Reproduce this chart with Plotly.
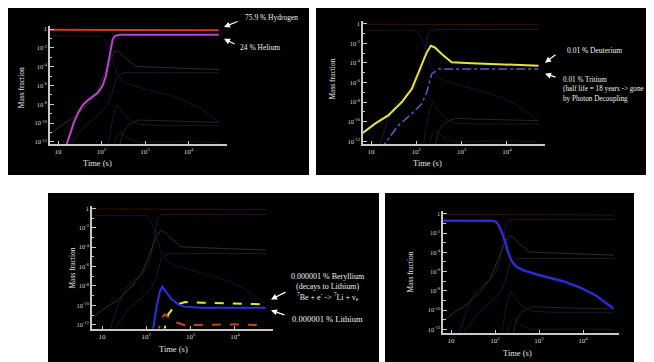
import plotly.graph_objects as go

# ---------------- data (time in s, mass fraction) ----------------
t_hydrogen = [6.6, 30, 100, 180, 300, 1000, 10000, 50000]
x_hydrogen = [0.87, 0.85, 0.82, 0.76, 0.74, 0.75, 0.76, 0.77]

t_helium = [14, 15.8, 18.9, 23.3, 29.3, 38.2, 49.8, 64.9, 84.5, 106, 127, 144, 163, 181, 204, 266, 50000]
x_helium = [1e-13, 5.8e-13, 7.8e-12, 1.3e-10, 1.5e-9, 9.8e-9, 3.0e-8, 6.9e-8, 1.95e-7, 1.0e-6,
            1.15e-5, 2.95e-4, 1.12e-2, 8.7e-2, 0.195, 0.25, 0.25]

t_deuterium = [6.6, 12.3, 24, 47.9, 79.4, 120, 170, 209, 257, 363, 603, 1660, 9120, 50000]
x_deuterium = [7.1e-12, 6.3e-11, 4.4e-10, 1e-8, 2.2e-7, 2.5e-5, 1.15e-3, 5.5e-3, 3.7e-3, 7.9e-4,
               1.12e-4, 8.9e-5, 7.1e-5, 5.1e-5]

t_tritium = [17.8, 20.4, 39.8, 79.4, 132, 170, 219, 309, 50000]
x_tritium = [1e-13, 6.3e-13, 4e-11, 6.5e-10, 6.8e-9, 1e-7, 7.4e-6, 2.3e-5, 2.3e-5]

t_neutron = [6.6, 89, 105, 119, 141, 170, 200, 240, 309, 437, 891, 3550, 8510, 20400, 49000]
x_neutron = [0.19, 0.19, 0.15, 7.2e-2, 1.48e-2, 1.38e-3, 8.7e-5, 1.17e-5, 3.0e-6, 1.38e-6, 4.9e-7,
             1e-7, 2.2e-8, 2.9e-9, 1.4e-10]

t_beryllium = [240, 263, 314, 407, 525, 741, 1780, 50000]
x_beryllium = [1e-13, 5.1e-13, 1.2e-11, 5.8e-11, 1.26e-10, 2.2e-10, 1.86e-10, 1.26e-10]

t_lithium = [132, 144, 172, 204, 229, 288, 372, 525, 741, 1780, 50000]
x_lithium = [1e-13, 5.1e-13, 8.5e-11, 2.95e-9, 8.3e-9, 2e-9, 4.2e-10, 1.26e-10, 7.4e-11, 5.8e-11, 5.8e-11]

t_other = [178, 194, 224, 263, 343, 485, 741, 10000, 50000]
x_other = [1e-13, 5.1e-13, 5.5e-12, 1.2e-11, 4.3e-12, 1.7e-12, 8.9e-13, 1.1e-12, 8.9e-13]

x_tickvals = [10, 100, 1000, 10000]
x_ticktext = ["10", "10<sup>2</sup>", "10<sup>3</sup>", "10<sup>4</sup>"]
y_tickvals = [1, 1e-2, 1e-4, 1e-6, 1e-8, 1e-10, 1e-12]
y_ticktext = ["1", "10<sup>-2</sup>", "10<sup>-4</sup>", "10<sup>-6</sup>", "10<sup>-8</sup>",
              "10<sup>-10</sup>", "10<sup>-12</sup>"]
y_minorvals = [1e-1, 1e-3, 1e-5, 1e-7, 1e-9, 1e-11]

species = {
    "H":  (t_hydrogen, x_hydrogen, dict(color="#d8361e", width=2), "#36120c"),
    "He": (t_helium, x_helium, dict(color="#c23ed6", width=2), "#261230"),
    "D":  (t_deuterium, x_deuterium, dict(color="#e6e33c", width=2), "#30301c"),
    "T":  (t_tritium, x_tritium, dict(color="#5a5ac8", width=1.5, dash="dashdot"), "#1a1a2e"),
    "n":  (t_neutron, x_neutron, dict(color="#2a2ad6", width=2.5), "#14142e"),
    "Be": (t_beryllium, x_beryllium, dict(color="#e6e33c", width=2, dash="dash"), "#262618"),
    "Li": (t_lithium, x_lithium, dict(color="#2434e0", width=2), "#16162e"),
    "X":  (t_other, x_other, dict(color="#d23c1e", width=2, dash="dash"), "#24120c"),
}

W, H = 654, 362
OFF = 8  # page body margin in the browser


def px(x):
    return (x - OFF) / W


def py(y):
    return 1 - (y - OFF) / H


panels = [
    dict(box=(8, 6, 309, 175), xl=50, xr=227, yb=144, yt=25, x0=58, xdec=43.5, y0=28.3, ydec=9.45,
         hi=["H", "He"], xt=(97, 163), yt_=(21.7, 87)),
    dict(box=(316, 5, 664, 175), xl=363, xr=545, yb=144, yt=20, x0=371, xdec=45.3, y0=22.7, ydec=9.86,
         hi=["D", "T"], xt=(427, 162.5), yt_=(333, 79)),
    dict(box=(48, 193, 379, 372), xl=92, xr=273, yb=329.3, yt=206, x0=102, xdec=44.3, y0=208.5, ydec=9.75,
         hi=["Be", "Li", "X"], xt=(173, 350), yt_=(73, 269)),
    dict(box=(385, 193, 634, 372), xl=443.3, xr=619, yb=334, yt=211, x0=451, xdec=44, y0=214, ydec=9.67,
         hi=["n"], xt=(517, 354), yt_=(411, 273)),
]

fig = go.Figure()
shapes = []
annotations = []
FONT = "Liberation Serif"
axcol = "#c8c8c8"

for i, p in enumerate(panels, start=1):
    sfx = "" if i == 1 else str(i)
    xa, ya = "x" + sfx, "y" + sfx
    bx0, by0, bx1, by1 = p["box"]
    shapes.append(dict(type="rect", xref="paper", yref="paper", x0=px(bx0), x1=px(bx1),
                       y0=py(by1), y1=py(by0), fillcolor="black", line=dict(width=0), layer="below"))
    for k, (tt, vv, style, dim) in species.items():
        if k in p["hi"]:
            continue
        fig.add_trace(go.Scatter(x=tt, y=vv, mode="lines", xaxis=xa, yaxis=ya, showlegend=False,
                                 line=dict(color=dim, width=1), hoverinfo="skip"))
    for k in p["hi"]:
        tt, vv, style, dim = species[k]
        fig.add_trace(go.Scatter(x=tt, y=vv, mode="lines", xaxis=xa, yaxis=ya, showlegend=False,
                                 line=style))
    xr0 = 1 + (p["xl"] - p["x0"]) / p["xdec"]
    xr1 = 1 + (p["xr"] - p["x0"]) / p["xdec"]
    yr0 = -(p["yb"] - p["y0"]) / p["ydec"]
    yr1 = -(p["yt"] - p["y0"]) / p["ydec"]
    fig.layout["xaxis" + sfx] = dict(
        type="log", range=[xr0, xr1], domain=[px(p["xl"]), px(p["xr"])], anchor=ya,
        showline=True, linecolor=axcol, linewidth=1.5, ticks="inside", ticklen=3, tickwidth=1,
        tickcolor=axcol, tickvals=x_tickvals, ticktext=x_ticktext, showgrid=False, zeroline=False,
        tickfont=dict(family=FONT, size=7, color="#d8d8d8"), fixedrange=True)
    fig.layout["yaxis" + sfx] = dict(
        type="log", range=[yr0, yr1], domain=[py(p["yb"]), py(p["yt"])], anchor=xa,
        showline=True, linecolor=axcol, linewidth=1.5, ticks="inside", ticklen=4, tickwidth=1,
        tickcolor=axcol, tickvals=y_tickvals, ticktext=y_ticktext, showgrid=False, zeroline=False,
        minor=dict(tickvals=y_minorvals, ticks="inside", ticklen=2.5, tickcolor=axcol, showgrid=False),
        tickfont=dict(family=FONT, size=6.5, color="#d8d8d8"), fixedrange=True)
    annotations.append(dict(text="Time (s)", xref="paper", yref="paper", x=px(p["xt"][0]), y=py(p["xt"][1]),
                            xanchor="center", yanchor="middle", showarrow=False,
                            font=dict(family=FONT, size=8.5, color="#e0e0e0")))
    annotations.append(dict(text="Mass fraction", xref="paper", yref="paper", x=px(p["yt_"][0]),
                            y=py(p["yt_"][1]), xanchor="center", yanchor="middle", textangle=-90,
                            showarrow=False, font=dict(family=FONT, size=7.5, color="#e0e0e0")))

# (text, left x, centre y, font size, alignment)
labels = [
    ("75.9 % Hydrogen", 243, 17, 7.5, "left"),
    ("24 % Helium", 238, 47, 7.5, "left"),
    ("0.01 % Deuterium", 565, 50, 7.5, "left"),
    ("0.01 % Tritium<br>(half life = 18 years -> gone<br>by Photon Decoupling", 561, 89, 7.2, "left"),
    ("0.000001 % Beryllium<br>(decays to Lithium)<br>"
     "<sup>7</sup>Be + e<sup>-</sup> -> <sup>7</sup>Li + ν<sub>e</sub>", 289, 288, 8, "center"),
    ("0.000001 % Lithium", 290, 320, 8.5, "left"),
]
for txt, lx, ly, fs, al in labels:
    annotations.append(dict(text=txt, xref="paper", yref="paper", x=px(lx), y=py(ly), xanchor="left",
                            yanchor="middle", align=al, showarrow=False,
                            font=dict(family=FONT, size=fs, color="#f0f0f0")))

arrows = [((224, 26), (239, 20)), ((224, 38), (236, 44)),
          ((545, 62), (557, 53)), ((545, 73), (557, 77)),
          ((271, 300), (287, 292)), ((271, 311), (286, 316))]
for (tx, ty), (sx, sy) in arrows:
    annotations.append(dict(text="", xref="paper", yref="paper", x=px(tx), y=py(ty),
                            ax=sx - tx, ay=sy - ty, showarrow=True, arrowhead=2, arrowsize=1,
                            arrowwidth=1.2, arrowcolor="white"))

fig.update_layout(width=W, height=H, margin=dict(l=0, r=0, t=0, b=0), paper_bgcolor="white",
                  plot_bgcolor="rgba(0,0,0,0)", shapes=shapes, annotations=annotations, showlegend=False)

fig.write_html("out.html")
